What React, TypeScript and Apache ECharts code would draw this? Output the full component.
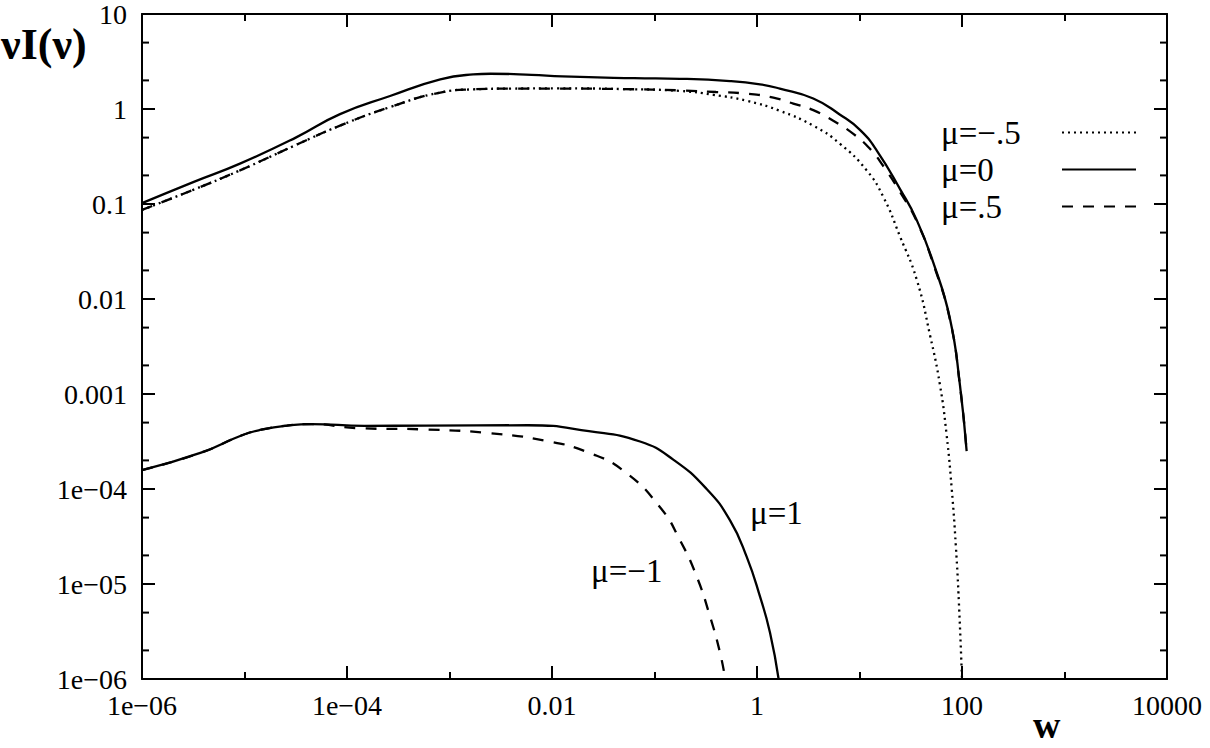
import React, { useEffect, useRef } from "react";
import * as echarts from "echarts";

const FONT = "Liberation Serif, Times New Roman, serif";

// tick labels (x: every second decade, y: every decade)
const xTickLabels = ["1e−06", "1e−04", "0.01", "1", "100", "10000"];
const yTickLabels = ["1e−06", "1e−05", "1e−04", "0.001", "0.01", "0.1", "1", "10"];
const yMinorMantissas = [2, 5];

// mu = -.5 (dotted)
const wMuMinusHalf = [1e-6, 3.16e-6, 9.03e-6, 3.16e-5, 8.55e-5, 2.63e-4, 8.13e-4, 1.7e-3, 3.98e-3, 0.0112, 0.0501, 0.177, 0.375, 0.794, 1.67, 3.54, 6.46, 11.75, 17.06, 24.8, 36.1, 48.8, 61, 70.8, 79.4, 87.1, 93.3, 100];
const iMuMinusHalf = [0.0867, 0.141, 0.226, 0.417, 0.668, 1.047, 1.49, 1.61, 1.64, 1.65, 1.62, 1.55, 1.41, 1.22, 0.957, 0.667, 0.43, 0.226, 0.119, 0.0457, 0.0161, 0.00414, 0.00124, 3.7e-4, 1e-4, 2.5e-5, 6.3e-6, 1e-6];

// mu = 0 (solid)
const wMuZero = [1e-6, 3.16e-6, 9.03e-6, 3.16e-5, 8.55e-5, 2.63e-4, 8.13e-4, 1.7e-3, 2.51e-3, 6.31e-3, 0.0126, 0.0631, 0.177, 0.546, 1.07, 1.67, 3.54, 6.46, 10.1, 14.8, 25.1, 36.1, 52.5, 76.4, 95.5, 111];
const iMuZero = [0.102, 0.17, 0.266, 0.5, 0.883, 1.37, 2.05, 2.31, 2.35, 2.29, 2.2, 2.11, 2.08, 1.97, 1.82, 1.64, 1.29, 0.871, 0.603, 0.363, 0.141, 0.0681, 0.0241, 0.00617, 0.00124, 0.00025];

// mu = .5 (dashed)
const wMuHalf = [1e-6, 3.16e-6, 9.03e-6, 3.16e-5, 8.55e-5, 2.63e-4, 8.13e-4, 1.7e-3, 3.98e-3, 0.012, 0.0501, 0.177, 0.398, 0.794, 1.445, 2.26, 3.54, 5.55, 8.71, 12.65, 17.06, 25.1, 36.1, 52.5, 76.4, 95.5, 111];
const iMuHalf = [0.0867, 0.141, 0.226, 0.417, 0.668, 1.047, 1.49, 1.61, 1.64, 1.64, 1.62, 1.57, 1.51, 1.45, 1.32, 1.14, 0.973, 0.753, 0.547, 0.381, 0.251, 0.132, 0.0661, 0.0234, 0.00603, 0.00123, 0.00025];

// mu = 1 (solid, lower)
const wMuOne = [1e-6, 3.77e-6, 9.46e-6, 1.5e-5, 2.6e-5, 4.5e-5, 1.48e-4, 5.9e-4, 5.8e-3, 0.0229, 0.0723, 0.1524, 0.3228, 0.5458, 0.794, 1.069, 1.34, 1.625];
const iMuOne = [1.58e-4, 2.41e-4, 3.68e-4, 4.23e-4, 4.65e-4, 4.83e-4, 4.62e-4, 4.65e-4, 4.69e-4, 4.07e-4, 3.16e-4, 2.04e-4, 1.0e-4, 4.67e-5, 1.93e-5, 7.4e-6, 3.06e-6, 1e-6];

// mu = -1 (dashed, lower)
const wMuMinusOne = [1e-6, 3.77e-6, 9.46e-6, 1.5e-5, 2.6e-5, 4.5e-5, 1.26e-4, 5.9e-4, 2.32e-3, 9.1e-3, 0.0229, 0.0501, 0.1132, 0.1774, 0.2582, 0.3475, 0.4355, 0.49];
const iMuMinusOne = [1.58e-4, 2.41e-4, 3.68e-4, 4.23e-4, 4.65e-4, 4.83e-4, 4.37e-4, 4.23e-4, 3.89e-4, 3.19e-4, 2.41e-4, 1.55e-4, 6.43e-5, 2.89e-5, 1.197e-5, 4.58e-6, 1.9e-6, 1e-6];

const X_MIN = -6;
const X_MAX = 4;
const Y_MIN = -6;
const Y_MAX = 1;

const toLog = (w: number[], v: number[]) =>
  w.map((x, i) => [Math.log10(x), Math.log10(v[i])]);

const yMinorTicks: number[] = [];
for (let d = Y_MIN; d < Y_MAX; d++) {
  yMinorMantissas.forEach((m) => yMinorTicks.push(d + Math.log10(m)));
}

const black = "#000";

const lineSeries = (name: string, data: number[][], type: any) => ({
  name,
  type: "line",
  data,
  symbol: "none",
  showSymbol: false,
  smooth: 0.5,
  clip: true,
  lineStyle: { color: black, width: 2.3, type },
  itemStyle: { color: black },
});

const App: React.FC = () => {
  const chartRef = useRef<HTMLDivElement>(null);

  useEffect(() => {
    const chart = echarts.init(chartRef.current!, null, { renderer: "svg" });

    const axisCommon = {
      type: "value",
      splitLine: { show: false },
      axisLine: { show: true, onZero: false, lineStyle: { color: black, width: 2 } },
      axisTick: { inside: true, length: 13, lineStyle: { color: black, width: 2 } },
    };

    const option: any = {
      animation: false,
      backgroundColor: "#fff",
      grid: { left: 142, right: 43, top: 9, bottom: 69 },
      xAxis: [
        {
          ...axisCommon,
          position: "bottom",
          min: X_MIN,
          max: X_MAX,
          interval: 2,
          minorTick: { show: true, splitNumber: 2, length: 7, lineStyle: { color: black, width: 2 } },
          axisLabel: {
            margin: 12,
            color: black,
            fontSize: 28,
            fontFamily: FONT,
            formatter: (v: number) => xTickLabels[Math.round((v - X_MIN) / 2)],
          },
        },
        {
          ...axisCommon,
          position: "top",
          min: X_MIN,
          max: X_MAX,
          interval: 2,
          minorTick: { show: true, splitNumber: 2, length: 7, lineStyle: { color: black, width: 2 } },
          axisLabel: { show: false },
        },
      ],
      yAxis: [
        {
          ...axisCommon,
          position: "left",
          min: Y_MIN,
          max: Y_MAX,
          interval: 1,
          axisLabel: {
            margin: 15,
            color: black,
            fontSize: 28,
            fontFamily: FONT,
            formatter: (v: number) => yTickLabels[Math.round(v - Y_MIN)],
          },
        },
        {
          ...axisCommon,
          position: "right",
          min: Y_MIN,
          max: Y_MAX,
          interval: 1,
          axisLabel: { show: false },
        },
      ],
      legend: {
        data: ["μ=−.5", "μ=0", "μ=.5"],
        orient: "vertical",
        left: 936,
        top: 111,
        align: "right",
        itemWidth: 74,
        itemHeight: 14,
        itemGap: 4,
        selectedMode: false,
        itemStyle: { opacity: 0 },
        formatter: (name: string) => `{t|${name}}`,
        textStyle: {
          color: black,
          fontSize: 33,
          fontFamily: FONT,
          rich: {
            t: { width: 116, align: "left", fontSize: 33, fontFamily: FONT, color: black, lineHeight: 33 },
          },
        },
      },
      graphic: [
        {
          type: "text",
          left: 1,
          top: 22,
          style: { text: "νI(ν)", font: `bold 44px ${FONT}`, fill: black },
        },
        {
          type: "text",
          left: 1033,
          top: 706,
          style: { text: "w", font: `bold 38px ${FONT}`, fill: black },
        },
        {
          type: "text",
          left: 750,
          top: 496,
          style: { text: "μ=1", font: `33px ${FONT}`, fill: black },
        },
        {
          type: "text",
          left: 591,
          top: 554,
          style: { text: "μ=−1", font: `33px ${FONT}`, fill: black },
        },
      ],
      series: [
        lineSeries("μ=0", toLog(wMuZero, iMuZero), "solid"),
        lineSeries("μ=1", toLog(wMuOne, iMuOne), "solid"),
        lineSeries("μ=−.5", toLog(wMuMinusHalf, iMuMinusHalf), [2, 4]),
        lineSeries("μ=.5", toLog(wMuHalf, iMuHalf), [11, 10]),
        lineSeries("μ=−1", toLog(wMuMinusOne, iMuMinusOne), [11, 10]),
        {
          // minor ticks at 2 and 5 of every decade, on both y borders
          type: "custom",
          silent: true,
          clip: false,
          z: 5,
          data: yMinorTicks.map((v) => [X_MIN, v]),
          renderItem: (_params: any, api: any) => {
            const y = api.coord([X_MIN, api.value(1)])[1];
            const xl = api.coord([X_MIN, Y_MIN])[0];
            const xr = api.coord([X_MAX, Y_MIN])[0];
            return {
              type: "group",
              children: [
                { type: "line", shape: { x1: xl, y1: y, x2: xl + 7, y2: y }, style: { stroke: black, lineWidth: 2 } },
                { type: "line", shape: { x1: xr - 7, y1: y, x2: xr, y2: y }, style: { stroke: black, lineWidth: 2 } },
              ],
            };
          },
        },
      ],
    };

    chart.setOption(option);

    return () => {
      chart.dispose();
    };
  }, []);

  return (
    <div
      ref={chartRef}
      style={{ position: "fixed", left: 0, top: 0, width: "1210px", height: "748px", background: "#fff" }}
    />
  );
};

export default App;
